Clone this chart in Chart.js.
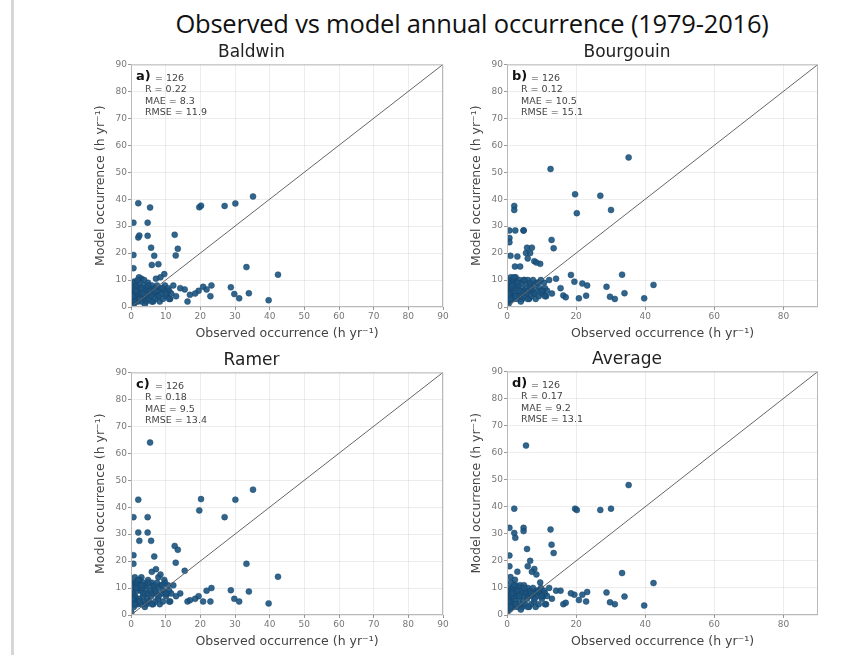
<!DOCTYPE html>
<html>
<head>
<meta charset="utf-8">
<title>Observed vs model annual occurrence</title>
<script src="https://cdn.jsdelivr.net/npm/chart.js@4.4.1/dist/chart.umd.min.js"></script>
<style>
    body { margin: 0; background: #fff; overflow: hidden; }
    #page { position: relative; width: 866px; height: 655px; background: #fff; }
    #edge { position: absolute; left: 11px; top: 0; width: 3px; height: 655px; background: #d6d6d6; }
    #main-title { position: absolute; left: 122px; top: 6px; width: 700px; text-align: center;
        font-family: 'Open Sans', sans-serif; font-size: 25.5px; color: #111; letter-spacing: -0.2px; }
    canvas { position: absolute; }
</style>
</head>
<body>
<div id="page">
    <div id="edge"></div>
    <div id="main-title">Observed vs model annual occurrence (1979-2016)</div>
    <canvas id="panelA"></canvas>
    <canvas id="panelB"></canvas>
    <canvas id="panelC"></canvas>
    <canvas id="panelD"></canvas>
</div>
<script>
// Observed annual occurrence (h/yr), shared by all four panels
const observed = [
    35.2, 42.4, 39.7, 33.3, 34.0, 27.0, 30.1, 19.7, 20.2, 28.8,
    29.8, 31.2, 22.9, 23.2, 21.8, 19.5, 18.5, 16.3, 17.0, 20.8,
    15.5, 12.6, 13.5, 12.9, 14.2, 12.2, 13.0,
    2.1, 5.5, 0.7, 4.8, 2.1, 2.4, 4.8, 5.8, 0.7, 6.7,
    6.0, 7.9, 0.7, 9.6, 3.0, 1.0, 8.5, 2.3, 3.8, 7.2,
    0.2, 0.3, 0.4, 0.5, 0.6, 0.7, 0.8, 0.9, 1.0, 1.1,
    1.2, 1.3, 1.4, 1.5, 1.6, 1.7, 1.8, 1.9, 2.0, 2.2,
    2.4, 2.5, 2.6, 2.8, 3.0, 3.1, 3.3, 3.5, 3.6, 3.8,
    4.0, 4.2, 4.4, 4.5, 4.7, 4.9, 5.0, 5.2, 5.4, 5.6,
    5.8, 6.0, 6.2, 6.4, 6.6, 6.8, 7.0, 7.3, 7.5, 7.8,
    8.0, 8.3, 8.6, 8.9, 9.2, 9.5, 9.8, 10.1, 10.4, 10.7,
    11.0, 11.3, 11.6, 0.1, 0.5, 1.0, 1.5, 2.0, 2.5, 3.0,
    3.5, 4.0, 5.0, 6.0, 7.0, 8.0, 9.0, 10.0, 11.0
];

// Model occurrence (h/yr) for each scheme
const modelBaldwin = [
    41, 12, 2.5, 14.8, 5.1, 37.5, 38.4, 37, 37.6, 7.3,
    4.8, 3.2, 4, 8, 6.5, 6, 5, 2, 4.5, 7.5,
    6.5, 26.8, 21.6, 19.1, 7, 8, 4,
    38.5, 36.9, 31.3, 31.3, 25.8, 26.5, 26.4, 22, 19.3, 19,
    15.6, 15.9, 14.4, 12.2, 10.5, 9.5, 11, 11, 10, 10.5,
    3, 6, 2, 8, 4, 5, 1, 7, 3, 9,
    5, 2, 6, 4, 8, 3, 5, 7, 2, 6,
    4, 9, 3, 5, 7, 2, 6, 4, 8, 5,
    3, 7, 2, 6, 4, 9, 5, 3, 7, 6,
    4, 8, 5, 2, 6, 7, 3, 5, 8, 4,
    6, 2, 7, 5, 3, 6, 8, 4, 5, 7,
    6, 3, 5, 1, 4, 2, 6, 10, 3, 7,
    5, 1, 8, 2, 6, 4, 7, 5, 3
];
const modelBourgouin = [
    55.5, 8.2, 3.2, 12, 5.1, 41.3, 36, 41.8, 34.8, 7.5,
    3.8, 3, 4.2, 8, 8.7, 9.4, 11.9, 4.3, 3.6, 3.2,
    7, 51.2, 21.8, 24.9, 10.5, 10, 5,
    37.5, 20, 28.4, 28.4, 36, 28.4, 28.4, 22, 25.6, 20,
    18, 17, 24, 16, 18.7, 19, 16.5, 15, 15, 22,
    5, 8, 1, 10, 6, 7, 2, 9, 4, 11,
    6, 3, 8, 5, 10, 4, 7, 9, 3, 8,
    5, 11, 4, 7, 9, 3, 8, 5, 10, 6,
    4, 9, 3, 7, 5, 10, 6, 4, 9, 7,
    5, 10, 6, 3, 8, 9, 4, 6, 10, 5,
    8, 3, 9, 6, 4, 7, 10, 5, 6, 9,
    7, 4, 6, 2, 5, 3, 8, 11, 4, 9,
    6, 2, 10, 3, 7, 5, 9, 6, 4
];
const modelRamer = [
    46.5, 14.2, 4.3, 19, 8.7, 36.3, 42.8, 38.8, 43, 9.2,
    6, 5, 5, 10, 9, 7, 6, 5, 5.5, 5,
    16.4, 25.6, 24.2, 19.4, 8, 11, 7,
    42.8, 64, 36.3, 36.3, 30.6, 27.5, 30.6, 27.5, 22.2, 21.7,
    16, 14, 19, 13, 14, 12, 15, 13, 11, 17,
    6, 9, 4, 12, 7, 8, 3, 11, 5, 14,
    7, 4, 10, 6, 12, 5, 9, 11, 4, 10,
    6, 13, 5, 9, 11, 4, 10, 7, 12, 8,
    5, 11, 4, 9, 6, 13, 8, 5, 11, 9,
    7, 12, 8, 4, 10, 11, 5, 8, 12, 6,
    10, 4, 11, 8, 5, 9, 12, 7, 8, 11,
    9, 5, 8, 1, 6, 4, 10, 13, 5, 11,
    8, 3, 12, 4, 9, 7, 11, 8, 5
];
const modelAverage = [
    48, 11.8, 3.5, 15.5, 6.8, 38.8, 39.3, 39.3, 38.8, 8.3,
    4.7, 4, 5, 8.5, 7.5, 7.5, 8, 4, 4.5, 5.5,
    9, 31.6, 22.9, 26, 9, 10, 6,
    39.3, 62.6, 32.2, 32.2, 30.3, 28.5, 31, 24.4, 22, 20,
    18, 17, 18, 12, 16, 14, 15, 13, 11, 16,
    5, 8, 3, 10, 6, 7, 2, 9, 4, 12,
    6, 3, 8, 5, 10, 4, 7, 9, 3, 8,
    5, 11, 4, 7, 9, 3, 8, 6, 10, 7,
    4, 9, 3, 8, 5, 11, 7, 4, 9, 8,
    6, 10, 7, 3, 8, 9, 4, 7, 10, 5,
    8, 3, 9, 7, 4, 8, 10, 6, 7, 9,
    8, 4, 7, 1, 5, 3, 8, 11, 4, 9,
    7, 2, 10, 3, 8, 6, 9, 7, 4
];

// Panel labels and statistics
const panelTitles = ["Baldwin", "Bourgouin", "Ramer", "Average"];
const panelLetters = ["a)", "b)", "c)", "d)"];
const nValues = [126, 126, 126, 126];
const rValues = ["0.22", "0.12", "0.18", "0.17"];
const maeValues = ["8.3", "10.5", "9.5", "9.2"];
const rmseValues = ["11.9", "15.1", "13.4", "13.1"];
const xTickStep = [10, 20, 10, 20];
const axisMax = 90;

// Plot-area corners (page pixels) for each panel
const panelBoxes = [
    { left: 131, top: 65, right: 443, bottom: 307 },
    { left: 507, top: 65, right: 818, bottom: 307 },
    { left: 131, top: 373, right: 443, bottom: 615 },
    { left: 507, top: 372, right: 818, bottom: 615 }
];

const Y_AXIS_W = 71;
const X_AXIS_H = 43;
const TOP_SPACE = 25;
const RIGHT_SPACE = 12;
const FONT = "'DejaVu Sans', sans-serif";

// Draws the box around the plot and the stats block
const panelDecor = {
    id: 'panelDecor',
    afterDraw(chart, args, opts) {
        const { ctx, chartArea: { left, top, right, bottom } } = chart;
        ctx.save();
        ctx.strokeStyle = '#b8b8b8';
        ctx.lineWidth = 1;
        ctx.strokeRect(left + 0.5, top + 0.5, right - left - 1, bottom - top - 1);

        ctx.textBaseline = 'middle';
        ctx.fillStyle = '#111';
        ctx.font = "bold 13px " + FONT;
        ctx.fillText(opts.letter, left + 5, top + 12);
        ctx.fillStyle = '#444';
        ctx.font = "9.5px " + FONT;
        ctx.fillText("= " + opts.n, left + 24, top + 14);
        ctx.fillText("R = " + opts.r, left + 14, top + 25);
        ctx.fillText("MAE = " + opts.mae, left + 14, top + 37);
        ctx.fillText("RMSE = " + opts.rmse, left + 14, top + 48);
        ctx.restore();
    }
};

function buildPanel(canvasId, idx, modelValues) {
    const box = panelBoxes[idx];
    const canvas = document.getElementById(canvasId);
    const w = Y_AXIS_W + (box.right - box.left) + RIGHT_SPACE;
    const h = TOP_SPACE + (box.bottom - box.top) + X_AXIS_H;
    canvas.width = w;
    canvas.height = h;
    canvas.style.width = w + 'px';
    canvas.style.height = h + 'px';
    canvas.style.left = (box.left - Y_AXIS_W) + 'px';
    canvas.style.top = (box.top - TOP_SPACE) + 'px';

    const points = observed.map((o, i) => ({ x: o, y: modelValues[i] }));
    const tickFont = { family: FONT, size: 9 };
    const axisTitleFont = { family: FONT, size: 12.5 };

    return new Chart(canvas, {
        type: 'scatter',
        data: {
            datasets: [
                {
                    label: 'Model vs observed',
                    data: points,
                    backgroundColor: 'rgba(28, 84, 128, 0.9)',
                    borderColor: 'rgba(20, 66, 104, 0.9)',
                    borderWidth: 0.5,
                    pointRadius: 3,
                    order: 2
                },
                {
                    label: '1:1',
                    type: 'line',
                    data: [{ x: 0, y: 0 }, { x: axisMax, y: axisMax }],
                    borderColor: '#666',
                    borderWidth: 1,
                    pointRadius: 0,
                    showLine: true,
                    order: 1
                }
            ]
        },
        options: {
            responsive: false,
            animation: false,
            devicePixelRatio: 1,
            layout: { padding: { top: 2, right: RIGHT_SPACE, left: 0, bottom: 0 } },
            plugins: {
                legend: { display: false },
                tooltip: { enabled: false },
                title: {
                    display: true,
                    text: panelTitles[idx],
                    color: '#222',
                    font: { family: FONT, size: 17, weight: 'normal' },
                    padding: { top: 0, bottom: 2 }
                },
                panelDecor: {
                    letter: panelLetters[idx],
                    n: nValues[idx],
                    r: rValues[idx],
                    mae: maeValues[idx],
                    rmse: rmseValues[idx]
                }
            },
            scales: {
                x: {
                    type: 'linear',
                    min: 0,
                    max: axisMax,
                    afterFit: s => { s.height = X_AXIS_H; },
                    border: { display: false },
                    grid: { color: 'rgba(0,0,0,0.07)', tickColor: '#999', tickLength: 3 },
                    ticks: { stepSize: xTickStep[idx], includeBounds: false, color: '#777', font: tickFont, padding: 1, maxRotation: 0 },
                    title: {
                        display: true,
                        text: 'Observed occurrence (h yr\u207B\u00B9)',
                        color: '#444',
                        font: axisTitleFont,
                        padding: { top: 0, bottom: 9 }
                    }
                },
                y: {
                    type: 'linear',
                    min: 0,
                    max: axisMax,
                    afterFit: s => { s.width = Y_AXIS_W; },
                    border: { display: false },
                    grid: { color: 'rgba(0,0,0,0.07)', tickColor: '#999', tickLength: 3 },
                    ticks: { stepSize: 10, color: '#777', font: tickFont, padding: 1 },
                    title: {
                        display: true,
                        text: 'Model occurrence (h yr\u207B\u00B9)',
                        color: '#444',
                        font: axisTitleFont,
                        padding: { top: 33, bottom: 0 }
                    }
                }
            }
        },
        plugins: [panelDecor]
    });
}

buildPanel('panelA', 0, modelBaldwin);
buildPanel('panelB', 1, modelBourgouin);
buildPanel('panelC', 2, modelRamer);
buildPanel('panelD', 3, modelAverage);
</script>
</body>
</html>
